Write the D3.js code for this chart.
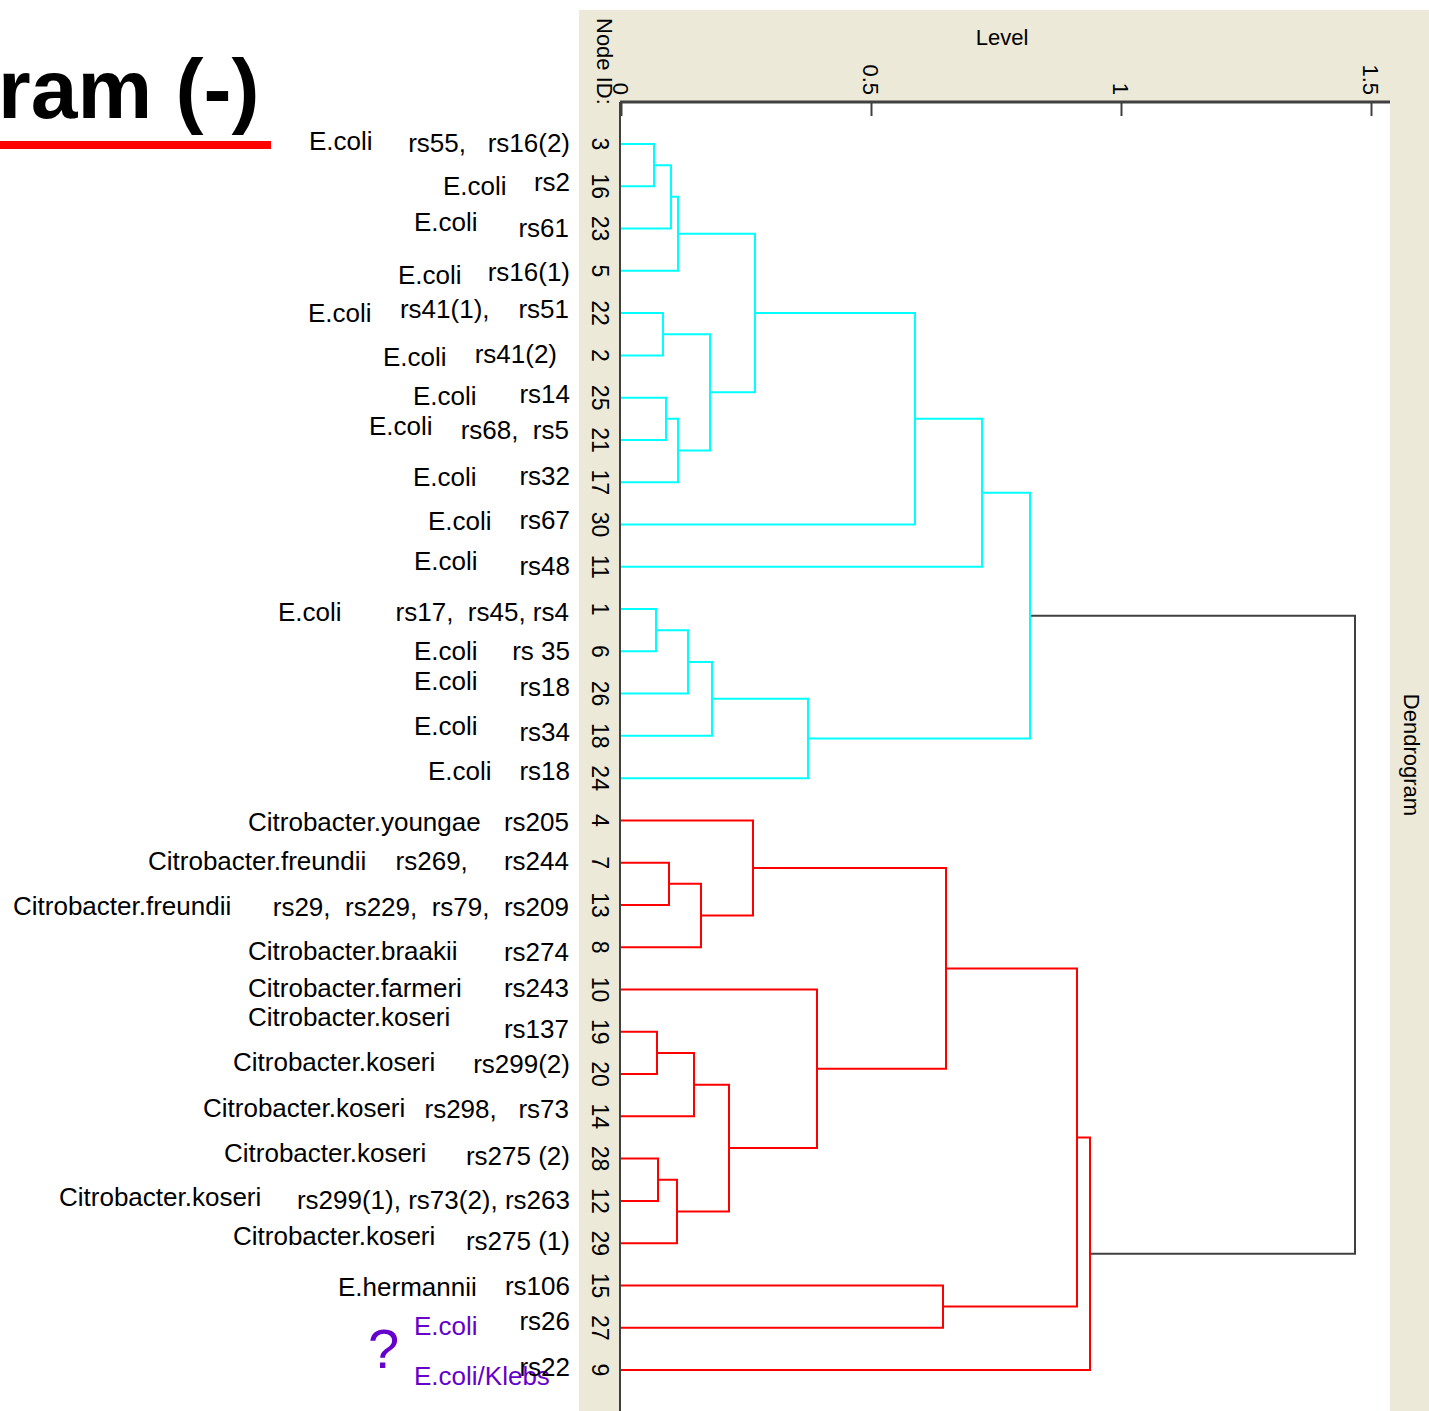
<!DOCTYPE html>
<html>
<head>
<meta charset="utf-8">
<script src="https://cdn.jsdelivr.net/npm/d3@7"></script>
<style>
  body { margin: 0; background: #fff; }
  svg { display: block; }
  text { white-space: pre; }
</style>
</head>
<body>
<div id="chart"></div>
<script>
// leaf order (top to bottom), as node IDs
const leafOrder = [3, 16, 23, 5, 22, 2, 25, 21, 17, 30, 11, 1, 6, 26, 18, 24,
  4, 7, 13, 8, 10, 19, 20, 14, 28, 12, 29, 15, 27, 9];

// merges: [child A, child B, level]; "mN" refers to the N-th merge
const merges = [
  [3, 16, 0.066], ['m0', 23, 0.100], ['m1', 5, 0.114],
  [22, 2, 0.084], [25, 21, 0.090], ['m4', 17, 0.114],
  ['m3', 'm5', 0.178], ['m2', 'm6', 0.268], ['m7', 30, 0.588],
  ['m8', 11, 0.722], [1, 6, 0.070], ['m10', 26, 0.134],
  ['m11', 18, 0.182], ['m12', 24, 0.374], ['m9', 'm13', 0.818],
  [7, 13, 0.096], ['m15', 8, 0.160], [4, 'm16', 0.264],
  [19, 20, 0.072], ['m18', 14, 0.146], [28, 12, 0.074],
  ['m20', 29, 0.112], ['m19', 'm21', 0.216], [10, 'm22', 0.392],
  ['m17', 'm23', 0.650], [15, 27, 0.644], ['m24', 'm25', 0.912],
  ['m26', 9, 0.938], ['m14', 'm27', 1.468]
];

// cluster roots and their colours
const clusterRoots = ['m14', 'm27'];
const clusterColors = ['#00ffff', '#ff0000'];

const levelTicks = [0, 0.5, 1, 1.5];

// annotation text on the left
const speciesLabels = ['E.coli', 'E.coli', 'E.coli', 'E.coli', 'E.coli', 'E.coli',
  'E.coli', 'E.coli', 'E.coli', 'E.coli', 'E.coli', 'E.coli', 'E.coli', 'E.coli',
  'E.coli', 'E.coli', 'Citrobacter.youngae', 'Citrobacter.freundii',
  'Citrobacter.freundii', 'Citrobacter.braakii', 'Citrobacter.farmeri',
  'Citrobacter.koseri', 'Citrobacter.koseri', 'Citrobacter.koseri',
  'Citrobacter.koseri', 'Citrobacter.koseri', 'Citrobacter.koseri',
  'E.hermannii', 'E.coli', 'E.coli/Klebs'];
const strainLabels = ['rs55,   rs16(2)', 'rs2', 'rs61', 'rs16(1)', 'rs41(1),    rs51',
  'rs41(2)', 'rs14', 'rs68,  rs5', 'rs32', 'rs67', 'rs48', 'rs17,  rs45, rs4',
  'rs 35', 'rs18', 'rs34', 'rs18', 'rs205', 'rs269,     rs244',
  'rs29,  rs229,  rs79,  rs209', 'rs274', 'rs243', 'rs137', 'rs299(2)',
  'rs298,   rs73', 'rs275 (2)', 'rs299(1), rs73(2), rs263', 'rs275 (1)',
  'rs106', 'rs26', 'rs22'];
const doubtful = ['E.coli', 'E.coli/Klebs'];

// layout of the annotation rows (species x, species baseline, strain right x, strain baseline)
const speciesX = [309, 443, 414, 398, 308, 383, 413, 369, 413, 428, 414, 278, 414, 414,
  414, 428, 248, 148, 13, 248, 248, 248, 233, 203, 224, 59, 233, 338, 414, 414];
const speciesY = [150, 195, 231, 284, 322, 366, 405, 435, 486, 530, 570, 621, 660, 690,
  735, 780, 831, 870, 915, 960, 997, 1026, 1071, 1117, 1162, 1206, 1245, 1296, 1335, 1385];
const strainX = [570, 570, 569, 570, 569, 557, 570, 569, 570, 570, 570, 569, 570, 570,
  570, 570, 569, 569, 569, 569, 569, 569, 570, 569, 570, 570, 570, 570, 570, 570];
const strainY = [152, 191, 237, 281, 318, 363, 403, 439, 485, 529, 575, 621, 660, 696,
  741, 780, 831, 870, 916, 961, 997, 1038, 1073, 1118, 1165, 1209, 1250, 1295, 1330, 1376];

const W = 1429, H = 1411;
const panel = { left: 579, top: 10 };
const plot = { left: 621, top: 102, right: 1390, bottom: 1411 };

const svg = d3.select('#chart').append('svg')
  .attr('width', W).attr('height', H);

// build tree from merges
const nodes = {};
leafOrder.forEach(id => { nodes[id] = { name: String(id) }; });
merges.forEach((m, i) => {
  nodes['m' + i] = { name: 'm' + i, level: m[2], children: [nodes[m[0]], nodes[m[1]]] };
});
const root = d3.hierarchy(nodes['m' + (merges.length - 1)]);

const x = d3.scaleLinear().domain([0, 1.5]).range([621, 1371]);
const y = d3.scalePoint().domain(leafOrder.map(String)).range([144, 1370]);

// positions: leaves from scalePoint, parents at midpoint of children
root.eachAfter(d => {
  if (!d.children) {
    d.px = x(0);
    d.py = y(d.data.name);
  } else {
    d.px = x(d.data.level);
    d.py = (d.children[0].py + d.children[1].py) / 2;
  }
});
root.each(d => {
  const ci = clusterRoots.indexOf(d.data.name);
  if (ci >= 0) d.color = clusterColors[ci];
  else d.color = d.parent ? d.parent.color : '#404040';
});

// panel background
svg.append('rect')
  .attr('x', panel.left).attr('y', panel.top)
  .attr('width', W - panel.left).attr('height', H - panel.top)
  .attr('fill', '#ece9d8');
svg.append('rect')
  .attr('x', plot.left).attr('y', plot.top)
  .attr('width', plot.right - plot.left).attr('height', plot.bottom - plot.top)
  .attr('fill', '#ffffff');

// dendrogram links
const links = svg.append('g').attr('fill', 'none').attr('stroke-width', 2);
root.descendants().filter(d => d.children).forEach(d => {
  const [a, b] = d.children;
  links.append('path')
    .attr('stroke', d.color)
    .attr('d', `M${a.px},${a.py}H${d.px}V${b.py}H${b.px}`);
});

// top axis (Level)
const axis = svg.append('g')
  .attr('transform', `translate(0,${plot.top})`)
  .call(d3.axisTop(x).tickValues(levelTicks).tickSize(-14).tickFormat(''));
axis.select('.domain').remove();
axis.selectAll('line').attr('stroke', '#404040').attr('stroke-width', 2);

svg.append('line')
  .attr('x1', plot.left - 1).attr('x2', plot.right)
  .attr('y1', plot.top).attr('y2', plot.top)
  .attr('stroke', '#404040').attr('stroke-width', 3);
svg.append('line')
  .attr('x1', plot.left - 1).attr('x2', plot.left - 1)
  .attr('y1', plot.top).attr('y2', H)
  .attr('stroke', '#404040').attr('stroke-width', 2);

const uiFont = 'Liberation Sans, Arial, sans-serif';

// rotated tick labels
svg.append('g').selectAll('text')
  .data(levelTicks)
  .join('text')
  .attr('transform', d => `translate(${x(d) - 8},95) rotate(90)`)
  .attr('text-anchor', 'end')
  .attr('font-family', uiFont).attr('font-size', 22).attr('fill', '#000')
  .text(d => String(d));

svg.append('text')
  .attr('x', 1002).attr('y', 45)
  .attr('text-anchor', 'middle')
  .attr('font-family', uiFont).attr('font-size', 22)
  .text('Level');

svg.append('text')
  .attr('transform', 'translate(597,18) rotate(90)')
  .attr('font-family', uiFont).attr('font-size', 22)
  .text('Node ID:');

svg.append('text')
  .attr('transform', 'translate(1404,755) rotate(90)')
  .attr('text-anchor', 'middle')
  .attr('font-family', uiFont).attr('font-size', 22)
  .text('Dendrogram');

// node ID labels
svg.append('g').selectAll('text')
  .data(leafOrder)
  .join('text')
  .attr('transform', d => `translate(592,${y(String(d))}) rotate(90)`)
  .attr('text-anchor', 'middle')
  .attr('font-family', uiFont).attr('font-size', 23)
  .text(d => d);

// title fragment
svg.append('text')
  .attr('x', -2).attr('y', 118)
  .attr('font-family', 'Liberation Sans, Arial, sans-serif')
  .attr('font-weight', 'bold').attr('font-size', 84)
  .text('ram (-)');
svg.append('rect')
  .attr('x', 0).attr('y', 141).attr('width', 271).attr('height', 8)
  .attr('fill', '#ff0000');

// annotations
const ann = svg.append('g')
  .attr('font-family', 'Liberation Sans, Arial, sans-serif')
  .attr('font-size', 26);
const rows = speciesLabels.map((s, i) => ({ s, r: strainLabels[i], i }));
ann.selectAll('text.sp')
  .data(rows)
  .join('text')
  .attr('class', 'sp')
  .attr('x', d => speciesX[d.i]).attr('y', d => speciesY[d.i])
  .attr('fill', d => (d.i >= 28 && doubtful.includes(d.s)) ? '#6600cc' : '#000')
  .text(d => d.s);
ann.selectAll('text.st')
  .data(rows)
  .join('text')
  .attr('class', 'st')
  .attr('x', d => strainX[d.i]).attr('y', d => strainY[d.i])
  .attr('text-anchor', 'end')
  .attr('fill', '#000')
  .text(d => d.r);
svg.append('text')
  .attr('x', 368).attr('y', 1368)
  .attr('font-family', 'Liberation Sans, Arial, sans-serif')
  .attr('font-size', 56).attr('fill', '#6600cc')
  .text('?');
</script>
</body>
</html>
